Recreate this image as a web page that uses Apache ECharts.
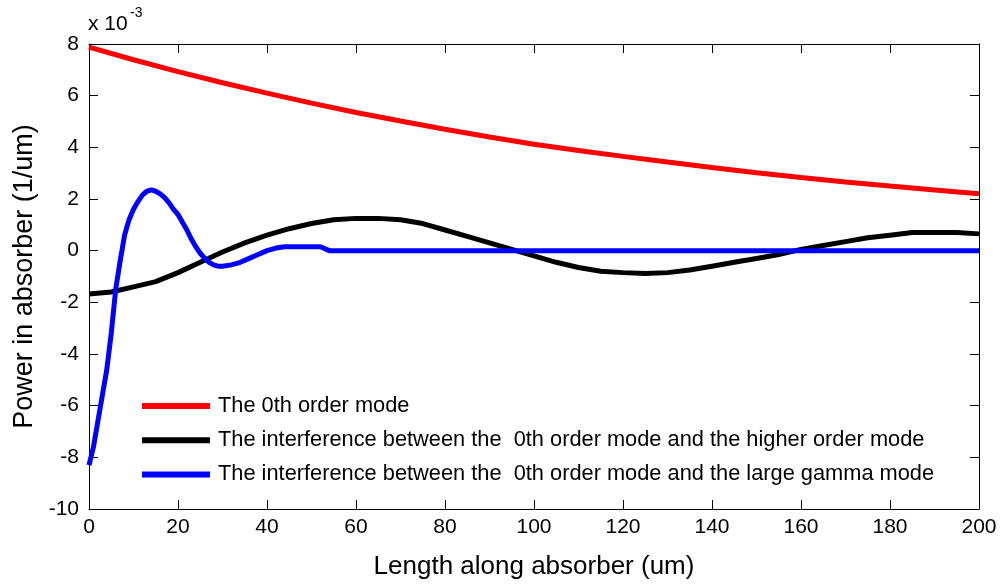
<!DOCTYPE html>
<html>
<head>
<meta charset="utf-8">
<script src="https://cdn.jsdelivr.net/npm/echarts@6/dist/echarts.min.js"></script>
<style>html,body{margin:0;padding:0;background:#fff;}#c{width:1003px;height:585px;}</style>
</head>
<body>
<div id="c"></div>
<script>
// ---- data (values in units of 1e-3 / um) ----
const redX = [0,10,20,30,40,50,60,70,80,90,100,110,120,130,140,150,160,170,180,190,200];
const redY = [7.88,7.39,6.93,6.5,6.1,5.71,5.35,5.02,4.7,4.4,4.12,3.88,3.65,3.43,3.22,3.02,2.83,2.66,2.5,2.35,2.2];

const blackX = [0,5,10,15,20,25,30,35,40,45,50,55,60,65,70,75,80,85,90,95,100,105,110,115,120,125,130,135,140,145,150,155,160,165,170,175,180,185,190,195,200];
const blackY = [-1.68,-1.6,-1.4,-1.2,-0.85,-0.45,-0.05,0.3,0.6,0.85,1.05,1.2,1.25,1.25,1.2,1.05,0.8,0.55,0.3,0.05,-0.2,-0.45,-0.65,-0.8,-0.85,-0.88,-0.85,-0.75,-0.6,-0.45,-0.3,-0.15,0.05,0.2,0.35,0.5,0.6,0.7,0.7,0.7,0.65];

const blueX = [0,1,2,3,4,5,6,7,8,9,10,11,12,13,14,15,16,17,18,19,20,21,22,23,24,25,26,27,28,29,30,32,34,36,38,40,42,44,48,52,54,60,80,100,120,140,160,180,200];
const blueY = [-8.3,-7.6,-6.6,-5.6,-4.6,-3.2,-1.5,-0.4,0.6,1.2,1.6,1.9,2.15,2.3,2.35,2.3,2.2,2.05,1.85,1.6,1.4,1.1,0.8,0.45,0.15,-0.1,-0.3,-0.45,-0.55,-0.6,-0.6,-0.55,-0.45,-0.3,-0.15,0.0,0.1,0.15,0.15,0.15,0.0,0,0,0,0,0,0,0,0];

const seriesNames = [
  'The 0th order mode',
  'The interference between the  0th order mode and the higher order mode',
  'The interference between the  0th order mode and the large gamma mode'
];
const xTitle = 'Length along absorber (um)';
const yTitle = 'Power in absorber (1/um)';

const zip = (xs, ys) => xs.map((x, i) => [x, ys[i]]);

const FONT = '"Liberation Sans", Arial, sans-serif';
const tickStyle = {show: true, inside: true, length: 9, lineStyle: {color: '#000', width: 1}};
const lineAxis = {show: true, onZero: false, lineStyle: {color: '#000', width: 1}};

const chart = echarts.init(document.getElementById('c'), null, {renderer: 'canvas'});
chart.setOption({
  backgroundColor: '#fff',
  animation: false,
  grid: {left: 89, right: 24, top: 44, bottom: 75, containLabel: false},
  xAxis: [{
    type: 'value', min: 0, max: 200, interval: 20, position: 'bottom',
    axisLine: lineAxis, axisTick: tickStyle, splitLine: {show: false},
    axisLabel: {color: '#000', fontSize: 21, fontFamily: FONT, margin: 8},
    name: xTitle, nameLocation: 'middle', nameGap: 45,
    nameTextStyle: {color: '#000', fontSize: 26, fontFamily: FONT}
  }, {
    type: 'value', min: 0, max: 200, interval: 20, position: 'top',
    axisLine: lineAxis, axisTick: tickStyle, splitLine: {show: false},
    axisLabel: {show: false}
  }],
  yAxis: [{
    type: 'value', min: -10, max: 8, interval: 2, position: 'left',
    axisLine: lineAxis, axisTick: tickStyle, splitLine: {show: false},
    axisLabel: {color: '#000', fontSize: 21, fontFamily: FONT, margin: 10},
    name: yTitle, nameLocation: 'middle', nameGap: 48, nameRotate: 90,
    nameTextStyle: {color: '#000', fontSize: 27, fontFamily: FONT}
  }, {
    type: 'value', min: -10, max: 8, interval: 2, position: 'right',
    axisLine: lineAxis, axisTick: tickStyle, splitLine: {show: false},
    axisLabel: {show: false}
  }],
  legend: {
    orient: 'vertical', left: 137, top: 390,
    itemWidth: 68, itemHeight: 6, itemGap: 12.2,
    icon: 'rect',
    textStyle: {color: '#000', fontSize: 21.8, fontFamily: FONT, padding: [0, 0, 0, 3]},
    data: seriesNames
  },
  graphic: [
    {type: 'text', left: 88, top: 14, style: {text: 'x 10', fontSize: 21, fontFamily: FONT, fill: '#000'}},
    {type: 'text', left: 130, top: 6, style: {text: '-3', fontSize: 14, fontFamily: FONT, fill: '#000'}}
  ],
  series: [
    {name: seriesNames[0], type: 'line', data: zip(redX, redY), showSymbol: false,
     lineStyle: {color: '#ff0000', width: 5}, itemStyle: {color: '#ff0000'}},
    {name: seriesNames[1], type: 'line', data: zip(blackX, blackY), showSymbol: false,
     lineStyle: {color: '#000000', width: 5}, itemStyle: {color: '#000000'}},
    {name: seriesNames[2], type: 'line', data: zip(blueX, blueY), showSymbol: false,
     lineStyle: {color: '#0000ff', width: 5}, itemStyle: {color: '#0000ff'}}
  ]
});
</script>
</body>
</html>
